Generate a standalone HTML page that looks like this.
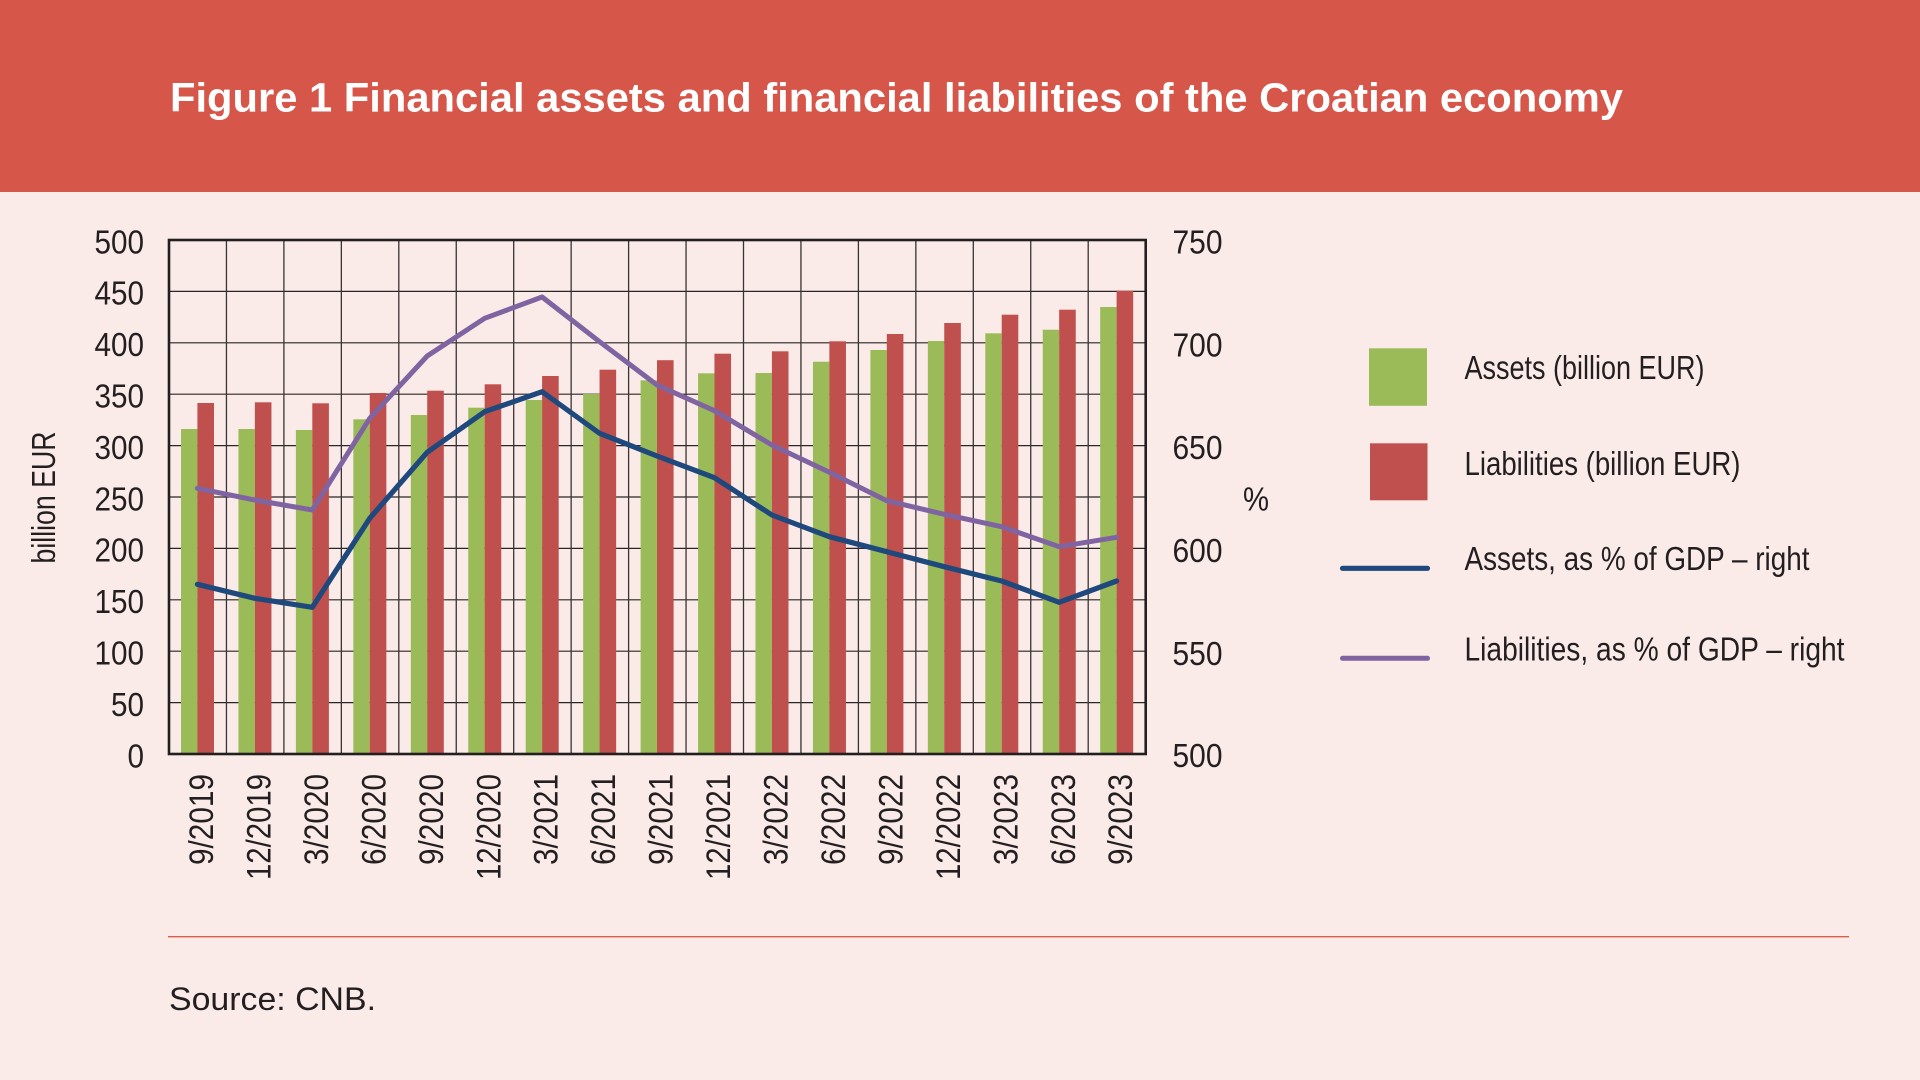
<!DOCTYPE html>
<html>
<head>
<meta charset="utf-8">
<style>
  html, body { margin: 0; padding: 0; background: #FAEBE8; }
  svg { display: block; }
  text { font-family: "Liberation Sans", Arial, Helvetica, sans-serif; fill: #231F20; }
</style>
</head>
<body>
<svg width="1920" height="1080" viewBox="0 0 1920 1080" xmlns="http://www.w3.org/2000/svg">
  <rect x="0" y="0" width="1920" height="1080" fill="#FAEBE8"/>
  <!-- Header -->
  <rect x="0" y="0" width="1920" height="192" fill="#D6564A"/>
  <text x="170" y="111.5" font-size="41" font-weight="bold" style="fill:#FFFFFF" textLength="1453" lengthAdjust="spacingAndGlyphs">Figure 1 Financial assets and financial liabilities of the Croatian economy</text>

  <!-- Horizontal gridlines -->
  <g stroke="#2b2626" stroke-width="1.2">
    <line x1="169" y1="291.4" x2="1145.7" y2="291.4"/>
    <line x1="169" y1="342.8" x2="1145.7" y2="342.8"/>
    <line x1="169" y1="394.2" x2="1145.7" y2="394.2"/>
    <line x1="169" y1="445.6" x2="1145.7" y2="445.6"/>
    <line x1="169" y1="497.0" x2="1145.7" y2="497.0"/>
    <line x1="169" y1="548.4" x2="1145.7" y2="548.4"/>
    <line x1="169" y1="599.8" x2="1145.7" y2="599.8"/>
    <line x1="169" y1="651.2" x2="1145.7" y2="651.2"/>
    <line x1="169" y1="702.6" x2="1145.7" y2="702.6"/>
  </g>
  <!-- Vertical gridlines -->
  <g stroke="#3a3333" stroke-width="1.3">
    <line x1="226.45" y1="240" x2="226.45" y2="754"/>
    <line x1="283.9" y1="240" x2="283.9" y2="754"/>
    <line x1="341.35" y1="240" x2="341.35" y2="754"/>
    <line x1="398.8" y1="240" x2="398.8" y2="754"/>
    <line x1="456.25" y1="240" x2="456.25" y2="754"/>
    <line x1="513.7" y1="240" x2="513.7" y2="754"/>
    <line x1="571.15" y1="240" x2="571.15" y2="754"/>
    <line x1="628.6" y1="240" x2="628.6" y2="754"/>
    <line x1="686.05" y1="240" x2="686.05" y2="754"/>
    <line x1="743.5" y1="240" x2="743.5" y2="754"/>
    <line x1="800.95" y1="240" x2="800.95" y2="754"/>
    <line x1="858.4" y1="240" x2="858.4" y2="754"/>
    <line x1="915.85" y1="240" x2="915.85" y2="754"/>
    <line x1="973.3" y1="240" x2="973.3" y2="754"/>
    <line x1="1030.75" y1="240" x2="1030.75" y2="754"/>
    <line x1="1088.2" y1="240" x2="1088.2" y2="754"/>
  </g>

  <!-- Bars: green (assets) -->
  <g fill="#9BBB59">
    <rect x="181.0" y="429.0" width="16.4" height="325.0"/>
    <rect x="238.45" y="429.0" width="16.4" height="325.0"/>
    <rect x="295.9" y="430.0" width="16.4" height="324.0"/>
    <rect x="353.35" y="419.3" width="16.4" height="334.7"/>
    <rect x="410.8" y="415.0" width="16.4" height="339.0"/>
    <rect x="468.25" y="407.7" width="16.4" height="346.3"/>
    <rect x="525.7" y="400.0" width="16.4" height="354.0"/>
    <rect x="583.15" y="394.0" width="16.4" height="360.0"/>
    <rect x="640.6" y="380.3" width="16.4" height="373.7"/>
    <rect x="698.05" y="373.3" width="16.4" height="380.7"/>
    <rect x="755.5" y="373.0" width="16.4" height="381.0"/>
    <rect x="812.95" y="361.7" width="16.4" height="392.3"/>
    <rect x="870.4" y="350.0" width="16.4" height="404.0"/>
    <rect x="927.85" y="341.0" width="16.4" height="413.0"/>
    <rect x="985.3" y="333.3" width="16.4" height="420.7"/>
    <rect x="1042.75" y="329.7" width="16.4" height="424.3"/>
    <rect x="1100.2" y="307.0" width="16.4" height="447.0"/>
  </g>
  <!-- Bars: red (liabilities) -->
  <g fill="#C0504D">
    <rect x="197.4" y="403.0" width="16.6" height="351.0"/>
    <rect x="254.85" y="402.3" width="16.6" height="351.7"/>
    <rect x="312.3" y="403.3" width="16.6" height="350.7"/>
    <rect x="369.75" y="393.0" width="16.6" height="361.0"/>
    <rect x="427.2" y="390.7" width="16.6" height="363.3"/>
    <rect x="484.65" y="384.3" width="16.6" height="369.7"/>
    <rect x="542.1" y="376.0" width="16.6" height="378.0"/>
    <rect x="599.55" y="369.7" width="16.6" height="384.3"/>
    <rect x="657.0" y="360.2" width="16.6" height="393.8"/>
    <rect x="714.45" y="353.7" width="16.6" height="400.3"/>
    <rect x="771.9" y="351.3" width="16.6" height="402.7"/>
    <rect x="829.35" y="341.3" width="16.6" height="412.7"/>
    <rect x="886.8" y="334.0" width="16.6" height="420.0"/>
    <rect x="944.25" y="323.0" width="16.6" height="431.0"/>
    <rect x="1001.7" y="314.7" width="16.6" height="439.3"/>
    <rect x="1059.15" y="309.7" width="16.6" height="444.3"/>
    <rect x="1116.6" y="290.7" width="16.6" height="463.3"/>
  </g>

  <!-- Plot border -->
  <rect x="169" y="240" width="976.7" height="514" fill="none" stroke="#231F20" stroke-width="2.6"/>

  <!-- Lines -->
  <polyline fill="none" stroke="#8064A2" stroke-width="5" stroke-linejoin="round" stroke-linecap="round"
    points="197.4,488.3 254.85,500 312.3,510 369.75,418.3 427.2,356 484.65,318.3 542.1,297 599.55,341.7 657,385 714.45,410.7 771.9,445 829.35,472.3 886.8,500.7 944.25,514.3 1001.7,526.7 1059.15,546.7 1116.6,537.3"/>
  <polyline fill="none" stroke="#1F497D" stroke-width="5.2" stroke-linejoin="round" stroke-linecap="round"
    points="197.4,584.3 254.85,598.3 312.3,607.3 369.75,518.3 427.2,452.3 484.65,411.7 542.1,391.7 599.55,433.3 657,456 714.45,477.7 771.9,515 829.35,536.7 886.8,551.7 944.25,566.7 1001.7,581 1059.15,602.3 1116.6,581"/>

  <!-- Left axis labels -->
  <g font-size="33" text-anchor="end">
    <text x="144" y="253.3" textLength="49.5" lengthAdjust="spacingAndGlyphs">500</text>
    <text x="144" y="304.7" textLength="49.5" lengthAdjust="spacingAndGlyphs">450</text>
    <text x="144" y="356.1" textLength="49.5" lengthAdjust="spacingAndGlyphs">400</text>
    <text x="144" y="407.5" textLength="49.5" lengthAdjust="spacingAndGlyphs">350</text>
    <text x="144" y="458.9" textLength="49.5" lengthAdjust="spacingAndGlyphs">300</text>
    <text x="144" y="510.3" textLength="49.5" lengthAdjust="spacingAndGlyphs">250</text>
    <text x="144" y="561.7" textLength="49.5" lengthAdjust="spacingAndGlyphs">200</text>
    <text x="144" y="613.1" textLength="49.5" lengthAdjust="spacingAndGlyphs">150</text>
    <text x="144" y="664.5" textLength="49.5" lengthAdjust="spacingAndGlyphs">100</text>
    <text x="144" y="715.9" textLength="33" lengthAdjust="spacingAndGlyphs">50</text>
    <text x="144" y="767.3" textLength="16.5" lengthAdjust="spacingAndGlyphs">0</text>
  </g>
  <!-- Right axis labels -->
  <g font-size="33">
    <text x="1172.5" y="253.6" textLength="50" lengthAdjust="spacingAndGlyphs">750</text>
    <text x="1172.5" y="356.4" textLength="50" lengthAdjust="spacingAndGlyphs">700</text>
    <text x="1172.5" y="459.2" textLength="50" lengthAdjust="spacingAndGlyphs">650</text>
    <text x="1172.5" y="562.0" textLength="50" lengthAdjust="spacingAndGlyphs">600</text>
    <text x="1172.5" y="664.8" textLength="50" lengthAdjust="spacingAndGlyphs">550</text>
    <text x="1172.5" y="767.0" textLength="50" lengthAdjust="spacingAndGlyphs">500</text>
  </g>
  <text x="1243" y="510.7" font-size="33" textLength="26" lengthAdjust="spacingAndGlyphs">%</text>

  <!-- Y axis title -->
  <text transform="translate(55,497.5) rotate(-90)" font-size="33" text-anchor="middle" textLength="132" lengthAdjust="spacingAndGlyphs">billion EUR</text>

  <!-- X axis labels -->
  <g font-size="34" text-anchor="end">
    <text transform="translate(213.0,774) rotate(-90)" textLength="91" lengthAdjust="spacingAndGlyphs">9/2019</text>
    <text transform="translate(270.45,774) rotate(-90)" textLength="106" lengthAdjust="spacingAndGlyphs">12/2019</text>
    <text transform="translate(327.9,774) rotate(-90)" textLength="91" lengthAdjust="spacingAndGlyphs">3/2020</text>
    <text transform="translate(385.35,774) rotate(-90)" textLength="91" lengthAdjust="spacingAndGlyphs">6/2020</text>
    <text transform="translate(442.8,774) rotate(-90)" textLength="91" lengthAdjust="spacingAndGlyphs">9/2020</text>
    <text transform="translate(500.25,774) rotate(-90)" textLength="106" lengthAdjust="spacingAndGlyphs">12/2020</text>
    <text transform="translate(557.7,774) rotate(-90)" textLength="91" lengthAdjust="spacingAndGlyphs">3/2021</text>
    <text transform="translate(615.15,774) rotate(-90)" textLength="91" lengthAdjust="spacingAndGlyphs">6/2021</text>
    <text transform="translate(672.6,774) rotate(-90)" textLength="91" lengthAdjust="spacingAndGlyphs">9/2021</text>
    <text transform="translate(730.05,774) rotate(-90)" textLength="106" lengthAdjust="spacingAndGlyphs">12/2021</text>
    <text transform="translate(787.5,774) rotate(-90)" textLength="91" lengthAdjust="spacingAndGlyphs">3/2022</text>
    <text transform="translate(844.95,774) rotate(-90)" textLength="91" lengthAdjust="spacingAndGlyphs">6/2022</text>
    <text transform="translate(902.4,774) rotate(-90)" textLength="91" lengthAdjust="spacingAndGlyphs">9/2022</text>
    <text transform="translate(959.85,774) rotate(-90)" textLength="106" lengthAdjust="spacingAndGlyphs">12/2022</text>
    <text transform="translate(1017.3,774) rotate(-90)" textLength="91" lengthAdjust="spacingAndGlyphs">3/2023</text>
    <text transform="translate(1074.75,774) rotate(-90)" textLength="91" lengthAdjust="spacingAndGlyphs">6/2023</text>
    <text transform="translate(1132.2,774) rotate(-90)" textLength="91" lengthAdjust="spacingAndGlyphs">9/2023</text>
  </g>

  <!-- Legend -->
  <rect x="1369" y="348.3" width="58" height="57.5" fill="#9BBB59"/>
  <rect x="1370" y="443.3" width="57.5" height="57" fill="#C0504D"/>
  <line x1="1342.5" y1="568.3" x2="1427.5" y2="568.3" stroke="#1F497D" stroke-width="5.2" stroke-linecap="round"/>
  <line x1="1342.5" y1="658.3" x2="1427.5" y2="658.3" stroke="#8064A2" stroke-width="5" stroke-linecap="round"/>
  <g font-size="33">
    <text x="1464.5" y="379" textLength="240" lengthAdjust="spacingAndGlyphs">Assets (billion EUR)</text>
    <text x="1464.5" y="475" textLength="276" lengthAdjust="spacingAndGlyphs">Liabilities (billion EUR)</text>
    <text x="1464.5" y="570" textLength="345" lengthAdjust="spacingAndGlyphs">Assets, as % of GDP – right</text>
    <text x="1464.5" y="660.7" textLength="380" lengthAdjust="spacingAndGlyphs">Liabilities, as % of GDP – right</text>
  </g>

  <!-- Separator -->
  <line x1="168" y1="936.7" x2="1849" y2="936.7" stroke="#E0594B" stroke-width="1.4"/>

  <!-- Source -->
  <text x="169" y="1010" font-size="32.5" textLength="207" lengthAdjust="spacingAndGlyphs">Source: CNB.</text>
</svg>
</body>
</html>
